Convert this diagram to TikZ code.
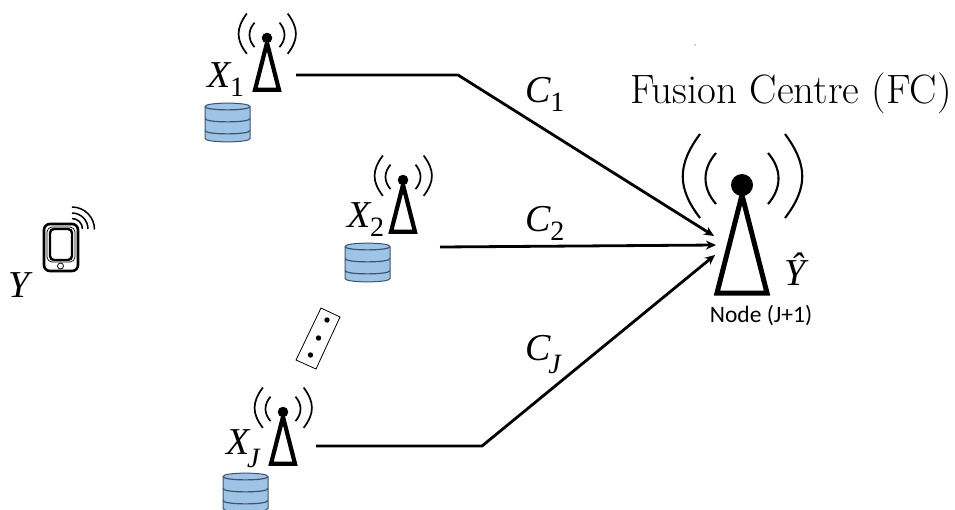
\documentclass[tikz,border=0pt]{standalone}
\usepackage{fontspec}
\setmainfont{Latin Modern Roman}
\newfontfamily\mathish{Liberation Serif}
\newfontfamily\smallsans{Carlito}
\usetikzlibrary{arrows.meta}
\newcommand{\lbl}[2]{{\mathish\fontsize{38}{38}\selectfont\itshape #1\kern0pt\raisebox{-9pt}{\fontsize{28}{28}\selectfont #2}}}
\newcommand{\lblj}[1]{{\mathish\fontsize{38}{38}\selectfont\itshape #1\kern-2pt\raisebox{-13pt}{\fontsize{28}{28}\selectfont J}}}
% tower: x, y (centre of the dot), scale, triangle line width, wave line width
\newcommand{\towerdraw}[5]{%
\begin{scope}[shift={(#1,#2)},scale=#3]
\fill[black] (0,0) circle (11);
\draw[line width=#4,line join=miter] (0,10) -- (-25,108) -- (25,108) -- cycle;
\draw[wave,line width=#5] (-42,-51) .. controls (-65,-20) and (-65,3) .. (-42,33);
\draw[wave,line width=#5] (-26,-32) .. controls (-40,-16) and (-40,3) .. (-26,19);
\draw[wave,line width=#5] (43,-51) .. controls (66,-20) and (66,3) .. (43,33);
\draw[wave,line width=#5] (26,-32) .. controls (40,-16) and (40,3) .. (26,19);
\end{scope}}
% database: left x, top y
\newcommand{\dbdraw}[2]{%
\begin{scope}[shift={(#1,#2)}]
\draw[dbstyle] (0,3.5) -- (0,35.5) .. controls (0,40) and (45,40) .. (45,35.5) -- (45,3.5)
  .. controls (45,-1) and (0,-1) .. (0,3.5) -- cycle;
\draw[dbline] (0,3.5) .. controls (0,8) and (45,8) .. (45,3.5);
\draw[dbline] (0,15.5) .. controls (0,20) and (45,20) .. (45,15.5);
\draw[dbline] (0,27.5) .. controls (0,32) and (45,32) .. (45,27.5);
\end{scope}}
\definecolor{dbfill}{HTML}{9DC3E6}
\definecolor{dbedge}{HTML}{3F5468}
\tikzset{
  wave/.style={line cap=butt},
  dbstyle/.style={fill=dbfill,draw=dbedge,line width=1pt},
  dbline/.style={draw=dbedge,line width=1.2pt},
  link/.style={line width=2.8pt,line join=miter,-{Stealth[length=10pt,width=9pt]}},
  txt/.style={inner sep=0pt,outer sep=0pt},
}
\begin{document}
\begin{tikzpicture}[x=1pt,y=-1pt]
\clip (0,0) rectangle (955,509);
\useasboundingbox (0,0) rectangle (955,509);
\towerdraw{267}{38}{0.48}{4.2pt}{1.7pt}
\towerdraw{403}{180}{0.48}{4.2pt}{1.7pt}
\towerdraw{283}{412}{0.48}{4.2pt}{1.7pt}
\towerdraw{742}{185}{1}{5pt}{2.1pt}
\dbdraw{205}{103}
\dbdraw{345}{243}
\dbdraw{223}{473}
% phone
\draw[line width=2.6pt,rounded corners=6pt] (44,224) rectangle (78,271);
\draw[line width=2.4pt,rounded corners=4pt] (50,229) rectangle (72,260);
\draw[line width=0.7pt,rounded corners=5pt] (47,227) -- (47,262) -- (75,262) -- (75,227) -- cycle;
\draw[line width=0.8pt,fill=white] (60.5,266) circle (3);
\draw[line width=1.5pt] (72,207) arc[start angle=270,end angle=360,radius=22.5];
\draw[line width=1.5pt] (72,213) arc[start angle=270,end angle=360,radius=16];
\draw[line width=1.5pt] (72,218.5) arc[start angle=270,end angle=360,radius=10.5];
% ellipsis box
\draw[line width=0.8pt] (321,308) -- (340,317) -- (316,369) -- (296,360) -- cycle;
\fill (327,320) circle (2.7);
\fill (318.5,338) circle (2.7);
\fill (310.5,355) circle (2.7);
\fill[black!70] (695,45) circle (0.6);
% labels
\node[txt,anchor=base west] (x1) at (207,87) {\lbl{X}{\upshape 1}};
\node[txt,anchor=base west] (x2) at (347,227) {\lbl{X}{\upshape 2}};
\node[txt,anchor=base west] (xj) at (226,454) {\lblj{X}};
\node[txt,anchor=base west] (c1) at (525,102) {\lbl{C}{\upshape 1}};
\node[txt,anchor=base west] (c2) at (525,231) {\lbl{C}{\upshape 2}};
\node[txt,anchor=base west] (cj) at (525,360) {\lblj{C}};
\node[txt,anchor=base west] (y) at (9,297) {\lbl{Y}{}};
\node[txt,anchor=base west] (yhat) at (784,285) {\lbl{Ŷ}{}};
\node[txt,anchor=base] (fc) at (791,103) {\fontsize{41}{41}\selectfont Fusion Centre (FC)};
\node[txt,anchor=base] (nj) at (761,322) {\smallsans\fontsize{23.5}{23.5}\selectfont Node (J+1)};
% connectors
\coordinate (s1) at (296,75);
\coordinate (b1) at (458,75);
\coordinate (e1) at (714,236);
\coordinate (s2) at (440,247);
\coordinate (e2) at (716,245);
\coordinate (s3) at (316,446);
\coordinate (b3) at (482,446);
\coordinate (e3) at (715,255);
\draw[link] (s1) -- (b1) -- (e1);
\draw[link] (s2) -- (e2);
\draw[link] (s3) -- (b3) -- (e3);
\end{tikzpicture}
\end{document}
